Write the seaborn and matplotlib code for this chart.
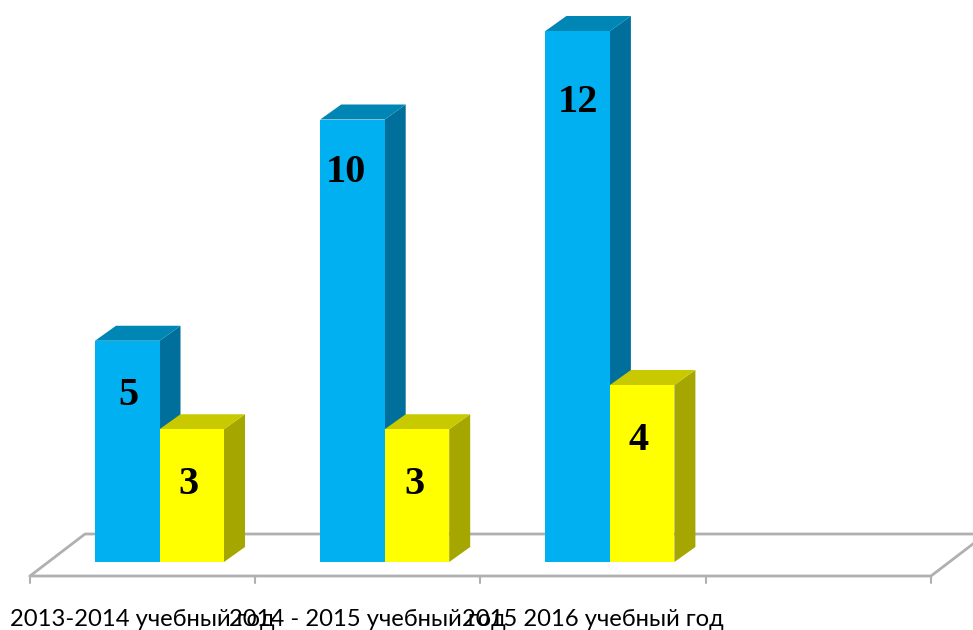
import matplotlib
matplotlib.use('Agg')
import matplotlib.pyplot as plt
from matplotlib.patches import Polygon
import pandas as pd
import seaborn as sns

# values
years = ['2013-2014 учебный год', '2014 - 2015 учебный год', '2015 2016 учебный год']
series_a = [5, 10, 12]
series_b = [3, 3, 4]

sns.set_theme(style='white')
plt.rcParams['font.family'] = ['Lato', 'Open Sans', 'DejaVu Sans']

W, H = 973, 630
slot = 225.2      # px per category
unit = 44.25      # px per value unit
x0_px = 159.5     # px of first category centre
base_px = 562     # px of value 0

df = pd.DataFrame({
    'year': years * 2,
    'series': ['a'] * 3 + ['b'] * 3,
    'value': series_a + series_b,
})

fig = plt.figure(figsize=(W / 100, H / 100), dpi=100)
ax = fig.add_axes([0, 0, 1, 1])

sns.barplot(data=df, x='year', y='value', hue='series', order=years,
            palette=['#00B0F0', '#FFFF00'], width=129 / slot, gap=0,
            saturation=1, legend=False, ax=ax, zorder=3, linewidth=0)

ax.set_xlim(-x0_px / slot, (W - x0_px) / slot)
ax.set_ylim((base_px - H) / unit, base_px / unit)
ax.axis('off')

# offsets of the fake 3d depth, in data units
dx = 21 / slot
dy = 15 / unit
floor_dx = 55 / slot
floor_dy = 42 / unit

# floor
left = (30 - x0_px) / slot
right = (931 - x0_px) / slot
front = -14 / unit
grey = '#b0b0b0'
ax.plot([left, right, right + floor_dx], [front, front, front + floor_dy], color=grey, lw=2, zorder=1)
ax.plot([left, left + floor_dx, right + floor_dx], [front, front + floor_dy, front + floor_dy],
        color=grey, lw=2, zorder=1)
for i in range(5):
    tx = left + i * (right - left) / 4
    ax.plot([tx, tx], [front, front - 7 / unit], color=grey, lw=1.5, zorder=1)

# side and top faces for each bar, taken from the drawn patches
face_cols = {'#00B0F0': ('#0086B4', '#006F9B'), '#FFFF00': ('#C9C900', '#A6A600')}
bars = list(ax.patches)
for n, bar in enumerate(bars):
    x1 = bar.get_x()
    x2 = x1 + bar.get_width()
    h = bar.get_height()
    top_c, side_c = face_cols['#00B0F0'] if n < 3 else face_cols['#FFFF00']
    # yellow stands in front of the blue side
    z = 2 if n < 3 else 4
    ax.add_patch(Polygon([(x2, 0), (x2 + dx, dy), (x2 + dx, h + dy), (x2, h)], fc=side_c, ec='none', zorder=z))
    ax.add_patch(Polygon([(x1, h), (x1 + dx, h + dy), (x2 + dx, h + dy), (x2, h)], fc=top_c, ec='none', zorder=z))
    bar.set_zorder(z + 1)

    # labels sit near the top of the bar
    drop = 71 if h == 12 else 53 if h == 10 else 55
    shift = {10: -7, 5: 1, 4: -4, 12: 0}.get(h, -3)
    ax.text(x1 + bar.get_width() / 2 + shift / slot, h - drop / unit, str(int(h)),
            ha='center', va='center', fontsize=29, fontweight='bold', color='black',
            family='Liberation Serif', zorder=8)

# category names
for i, name in enumerate(years):
    ax.text(i - 17 / slot, (base_px - 619) / unit, name, ha='center', va='center',
            fontsize=17.1, color='black', zorder=8)

fig.savefig('out.png', dpi=100)
